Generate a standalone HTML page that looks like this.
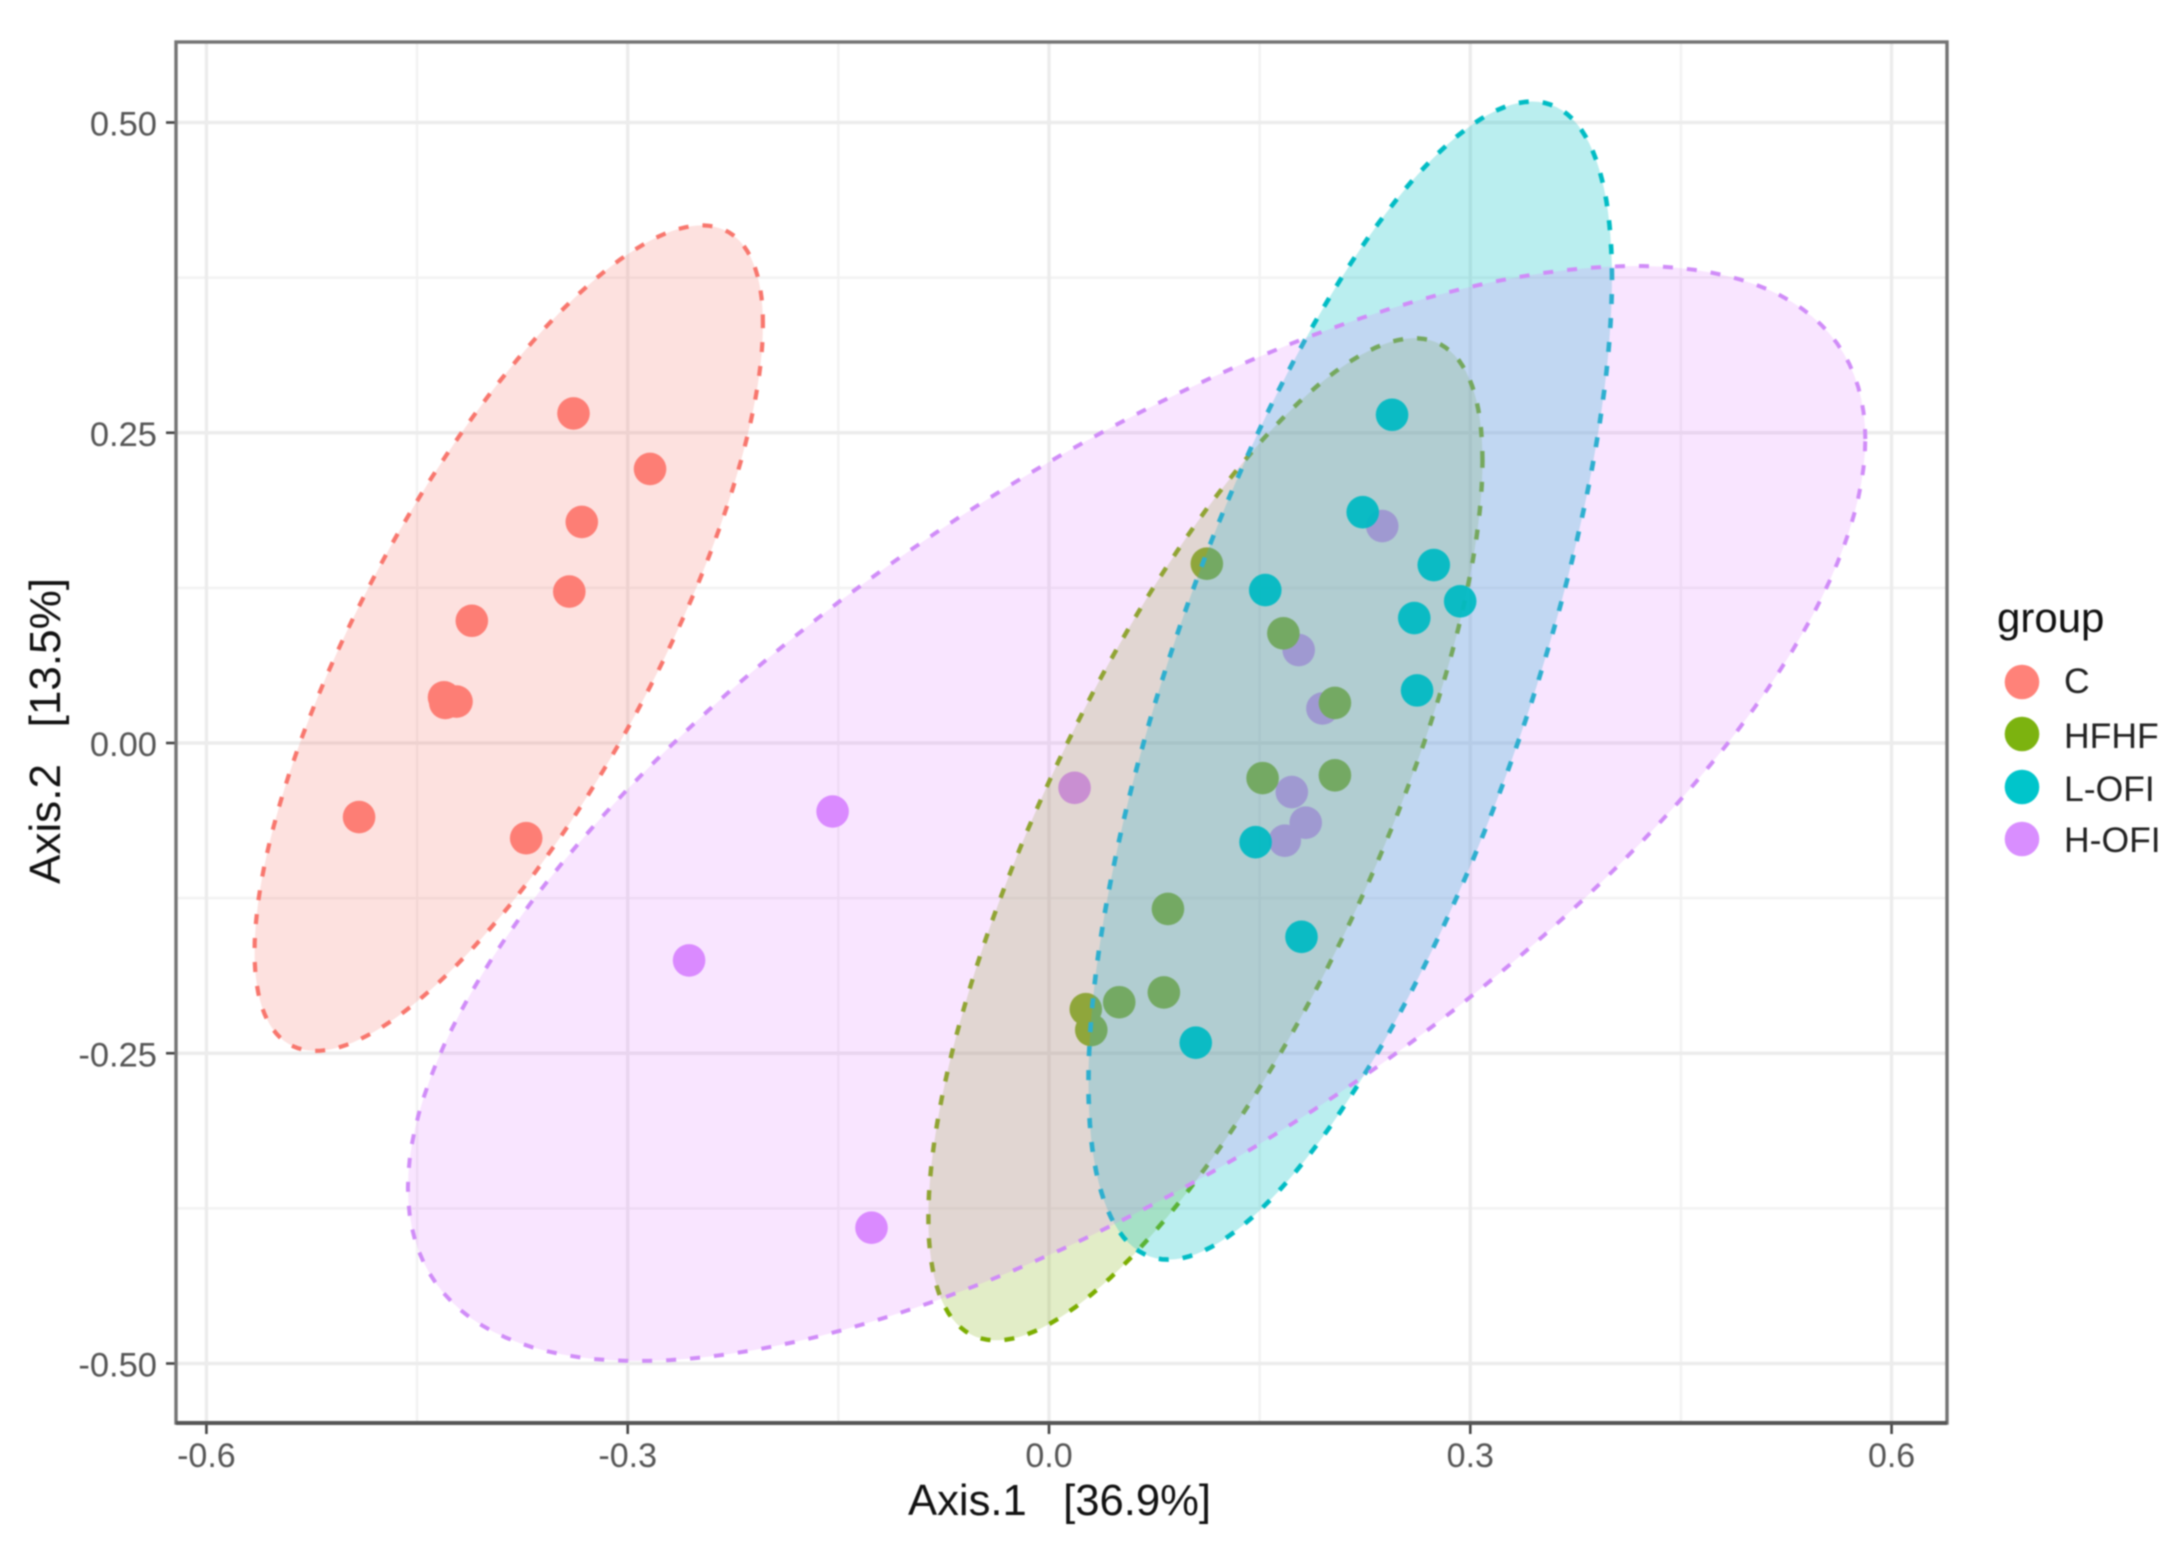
<!DOCTYPE html>
<html lang="en">
<head>
<meta charset="utf-8">
<title>PCoA ordination chart</title>
<style>
html,body{margin:0;padding:0;background:#fff;width:2183px;height:1553px;overflow:hidden}
svg{display:block;filter:blur(0.9px)}
text{font-family:"Liberation Sans",sans-serif}
</style>
</head>
<body>
<svg id="chart" xmlns="http://www.w3.org/2000/svg" width="2183" height="1553" viewBox="0 0 2183 1553">
  <rect x="0" y="0" width="2183" height="1553" fill="#fff"/>
  <g id="grid"></g>
  <g id="points"></g>
  <g id="ellipses"></g>
  <g id="points-top"></g>
  <g id="axes"></g>
  <text x="908" y="1515" font-size="44" fill="#111" xml:space="preserve" textLength="303" lengthAdjust="spacingAndGlyphs">Axis.1   [36.9%]</text>
  <text transform="translate(60,731) rotate(-90)" text-anchor="middle" font-size="44" fill="#111" xml:space="preserve" textLength="306" lengthAdjust="spacingAndGlyphs">Axis.2   [13.5%]</text>
  <g>
    <text x="1997" y="632" font-size="42" fill="#111">group</text>
    <circle cx="2022" cy="682" r="17.3" fill="#ff8279"/>
    <text x="2064" y="693" font-size="35.5" fill="#222">C</text>
    <circle cx="2022" cy="734" r="17.3" fill="#7cb30f"/>
    <text x="2064" y="748" font-size="35.5" fill="#222">HFHF</text>
    <circle cx="2022" cy="787" r="17.3" fill="#00c5cb"/>
    <text x="2064" y="801" font-size="35.5" fill="#222">L-OFI</text>
    <circle cx="2022" cy="839" r="17.3" fill="#d98eff"/>
    <text x="2064" y="852" font-size="35.5" fill="#222">H-OFI</text>
  </g>
</svg>
<script>
// Tick values and labels
const xMajorTicks = [-0.6, -0.3, 0, 0.3, 0.6];
const xTickLabels = ["-0.6", "-0.3", "0.0", "0.3", "0.6"];
const xMinorTicks = [-0.45, -0.15, 0.15, 0.45];
const yMajorTicks = [-0.5, -0.25, 0, 0.25, 0.5];
const yTickLabels = ["-0.50", "-0.25", "0.00", "0.25", "0.50"];
const yMinorTicks = [-0.375, -0.125, 0.125, 0.375];

// Group names, in drawing order
const groups = ["c", "hfhf", "l-ofi", "h-ofi"];

// Sample scores per group
const cAxis1 = [-0.3386, -0.2841, -0.3327, -0.3416, -0.4110, -0.4308, -0.4219, -0.4299, -0.4913, -0.3723];
const cAxis2 = [0.2656, 0.2208, 0.1781, 0.1220, 0.0985, 0.0368, 0.0334, 0.0323, -0.0597, -0.0767];
const hfhfAxis1 = [0.1124, 0.1669, 0.2036, 0.1521, 0.2036, 0.0847, 0.0818, 0.0500, 0.0262, 0.0301];
const hfhfAxis2 = [0.1445, 0.0884, 0.0323, -0.0283, -0.0260, -0.1337, -0.2010, -0.2089, -0.2145, -0.2313];
const lofiAxis1 = [0.2443, 0.2234, 0.2740, 0.2928, 0.2601, 0.1540, 0.2621, 0.1471, 0.1798, 0.1045];
const lofiAxis2 = [0.2645, 0.1860, 0.1434, 0.1142, 0.1007, 0.1232, 0.0424, -0.0799, -0.1562, -0.2415];
const hofiAxis1 = [0.2373, 0.1778, 0.1947, 0.0182, 0.1729, 0.1828, 0.1679, -0.1541, -0.2563, -0.1264];
const hofiAxis2 = [0.1748, 0.0749, 0.0278, -0.0361, -0.0395, -0.0642, -0.0787, -0.0552, -0.1752, -0.3906];

// Confidence ellipse summary per group (centre, half-extent, correlation), same order as groups
const ellipseCenter1 = [-0.3847, 0.1114, 0.2145, 0.0624];
const ellipseCenter2 = [0.0845, -0.0776, 0.0503, -0.0568];
const ellipseExtent1 = [0.1810, 0.1973, 0.1864, 0.5189];
const ellipseExtent2 = [0.3326, 0.4038, 0.4666, 0.4412];
const ellipseCorrelation = [0.76, 0.755, 0.695, 0.684];

const axis1Series = [cAxis1, hfhfAxis1, lofiAxis1, hofiAxis1];
const axis2Series = [cAxis2, hfhfAxis2, lofiAxis2, hofiAxis2];

const panel = {left: 176, top: 42, right: 1947, bottom: 1423};
const pointColors = ["#ff8078", "#7cb30f", "#00bac2", "#d98eff"];
const lineColors = ["#f8766d", "#7cae00", "#00bcc4", "#d08cf8"];
const fillColors = ["#f8766d", "#7cae00", "#00bfc4", "#e07cff"];
const fillOpacity = [0.22, 0.22, 0.27, 0.2];
const strokeWidths = [4.2, 4.4, 4.6, 4];
const NS = "http://www.w3.org/2000/svg";

function sx(v) { return 1049 + v * 1404.3; }
function sy(v) { return 743 - v * 1241; }

function make(tag, parent, attrs) {
  const el = document.createElementNS(NS, tag);
  for (const k in attrs) el.setAttribute(k, attrs[k]);
  parent.appendChild(el);
  return el;
}

const gridG = document.getElementById("grid");
const pointsG = document.getElementById("points");
const pointsTopG = document.getElementById("points-top");
const ellipsesG = document.getElementById("ellipses");
const axesG = document.getElementById("axes");

xMinorTicks.forEach(function (v) {
  const l = make("line", gridG, {x1: sx(v), x2: sx(v), y1: panel.top, y2: panel.bottom, stroke: "#f2f2f2", "stroke-width": 2.4});
  
  
});
yMinorTicks.forEach(function (v) {
  const l = make("line", gridG, {x1: panel.left, x2: panel.right, y1: sy(v), y2: sy(v), stroke: "#f2f2f2", "stroke-width": 2.4});
  
  
});
xMajorTicks.forEach(function (v) {
  const l = make("line", gridG, {x1: sx(v), x2: sx(v), y1: panel.top, y2: panel.bottom, stroke: "#ececec", "stroke-width": 3.4});
  
  
});
yMajorTicks.forEach(function (v) {
  const l = make("line", gridG, {x1: panel.left, x2: panel.right, y1: sy(v), y2: sy(v), stroke: "#ececec", "stroke-width": 3.6});
  
  
});

// Purple, green and red points sit under the ellipse fills; teal points sit above them.
[3, 1, 0, 2].forEach(function (g) {
  const name = groups[g];
  const layer = g === 2 ? pointsTopG : pointsG;
  axis1Series[g].forEach(function (v, i) {
    const c = make("circle", layer, {cx: sx(v), cy: sy(axis2Series[g][i]), r: 16.3, fill: pointColors[g], "fill-opacity": g === 2 ? 0.94 : 1});
    
    
  });
});

groups.forEach(function (name, g) {
  const phi = Math.acos(ellipseCorrelation[g]);
  const pts = [];
  for (let k = 0; k < 180; k++) {
    const t = k / 180 * 2 * Math.PI;
    const a = ellipseCenter1[g] + ellipseExtent1[g] * Math.cos(t);
    const b = ellipseCenter2[g] + ellipseExtent2[g] * Math.cos(t - phi);
    pts.push(sx(a).toFixed(1) + "," + sy(b).toFixed(1));
  }
  const e = make("polygon", ellipsesG, {
    points: pts.join(" "),
    fill: fillColors[g],
    "fill-opacity": fillOpacity[g],
    stroke: lineColors[g],
    "stroke-width": strokeWidths[g],
    "stroke-dasharray": "10 14"
  });
  
  
});

xMajorTicks.forEach(function (v, i) {
  const t = make("line", axesG, {x1: sx(v), x2: sx(v), y1: panel.bottom, y2: panel.bottom + 11, stroke: "#444", "stroke-width": 2.6});
  
  
  const s = make("text", axesG, {x: sx(v), y: 1467, "text-anchor": "middle", "font-size": 34, fill: "#555"});
  
  
  s.textContent = xTickLabels[i];
});
yMajorTicks.forEach(function (v, i) {
  const t = make("line", axesG, {x1: panel.left - 10, x2: panel.left, y1: sy(v), y2: sy(v), stroke: "#444", "stroke-width": 2.6});
  
  
  const s = make("text", axesG, {x: 157, y: sy(v) + 13, "text-anchor": "end", "font-size": 34.5, fill: "#555"});
  
  
  s.textContent = yTickLabels[i];
});

const border = make("rect", axesG, {x: panel.left, y: panel.top, width: panel.right - panel.left, height: panel.bottom - panel.top, fill: "none", stroke: "#747474", "stroke-width": 3.4});


const bottomAxis = make("line", axesG, {x1: panel.left, x2: panel.right, y1: panel.bottom, y2: panel.bottom, stroke: "#555", "stroke-width": 4});


</script>
</body>
</html>
